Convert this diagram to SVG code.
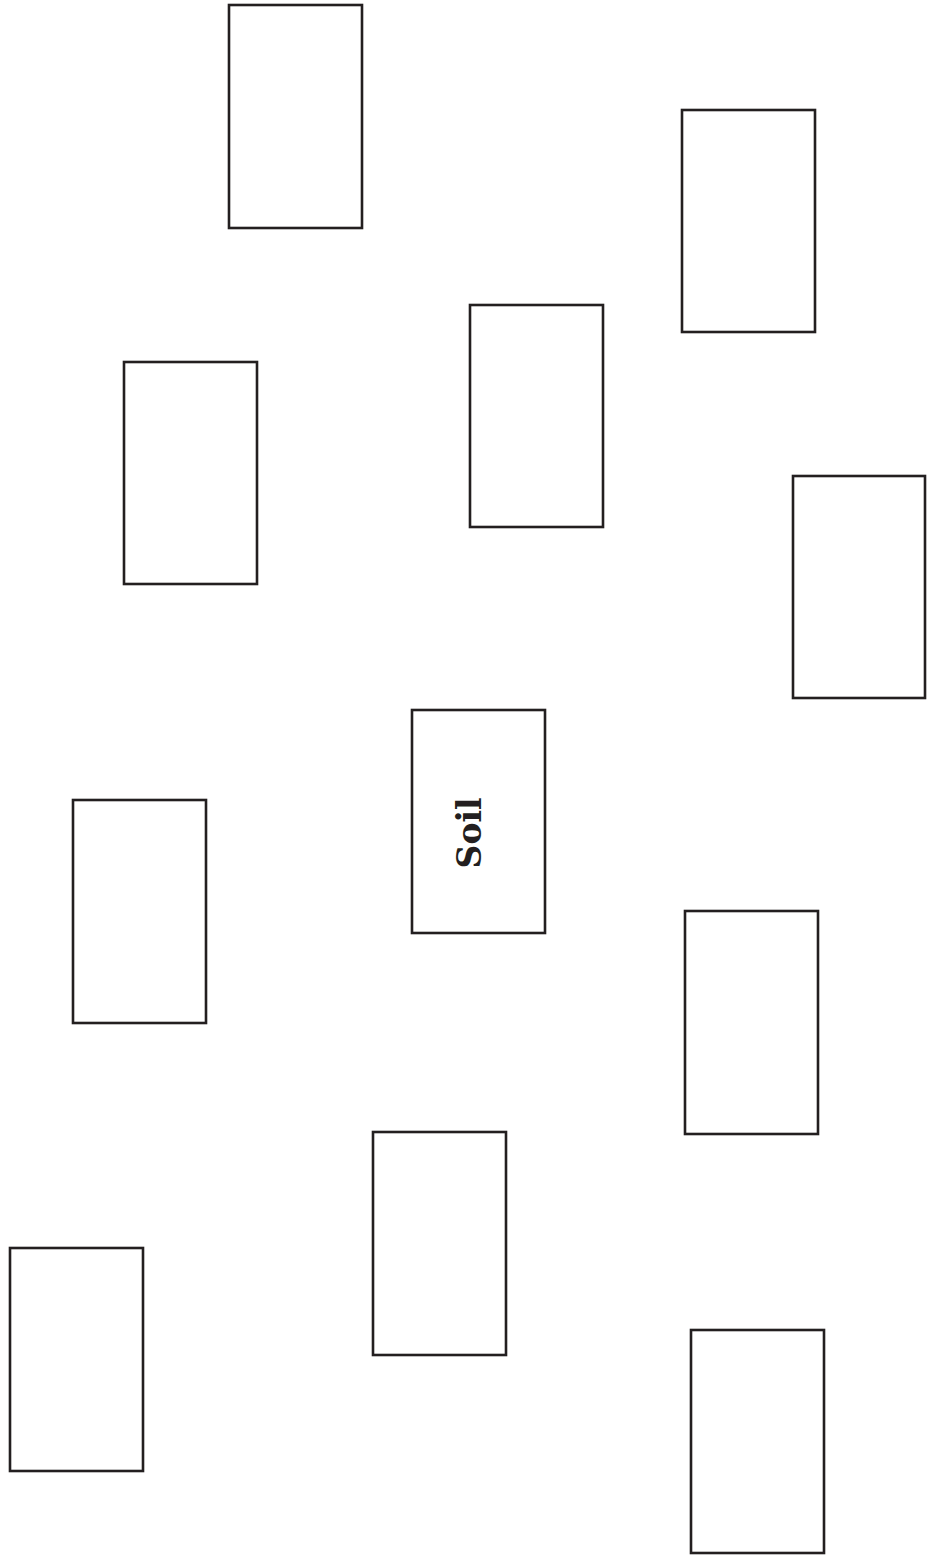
<svg xmlns="http://www.w3.org/2000/svg" width="927" height="1556" viewBox="0 0 927 1556">
<style>
.box{fill:#fff;stroke:#231f20;stroke-width:2.6}
.lbl{font-family:"DejaVu Serif","Liberation Serif",serif;font-weight:bold;font-size:33px;fill:#231f20}
</style>
<rect width="927" height="1556" fill="#fff"/>
<g id="connectors"></g>
<g id="n1"><rect class="box" x="229" y="5" width="133" height="223"/></g>
<g id="n2"><rect class="box" x="682" y="110" width="133" height="222"/></g>
<g id="n3"><rect class="box" x="124" y="362" width="133" height="222"/></g>
<g id="n4"><rect class="box" x="470" y="305" width="133" height="222"/></g>
<g id="n5"><rect class="box" x="793" y="476" width="132" height="222"/></g>
<g id="soil"><rect class="box" x="412" y="710" width="133" height="223"/>
<text class="lbl" transform="translate(481,833) rotate(-90)" text-anchor="middle">Soil</text></g>
<g id="n7"><rect class="box" x="73" y="800" width="133" height="223"/></g>
<g id="n8"><rect class="box" x="685" y="911" width="133" height="223"/></g>
<g id="n9"><rect class="box" x="373" y="1132" width="133" height="223"/></g>
<g id="n10"><rect class="box" x="10" y="1248" width="133" height="223"/></g>
<g id="n11"><rect class="box" x="691" y="1330" width="133" height="223"/></g>
</svg>
